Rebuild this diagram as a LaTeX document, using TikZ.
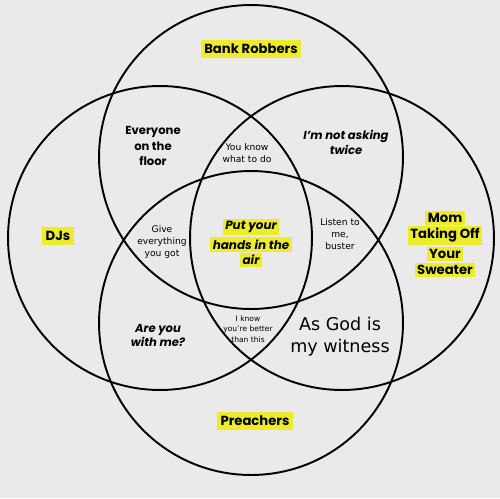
\documentclass[tikz,border=0pt]{standalone}
\usepackage{fontspec}
\setmainfont{Poppins}
\newfontfamily\plainsans{DejaVu Sans}
\usepackage{xcolor}
\definecolor{vennbg}{RGB}{234,234,234}
\definecolor{vennyellow}{RGB}{236,236,44}
\usetikzlibrary{positioning}
\setlength{\fboxsep}{1.4pt}
\newcommand{\hl}[1]{\colorbox{vennyellow}{#1}}

\begin{document}
\begin{tikzpicture}[x=0.02cm, y=-0.02cm,
  ring/.style={draw=black, line width=1.1pt},
  tag/.style={fill=vennyellow, inner xsep=2pt, inner ysep=2.4pt, font=\bfseries\fontsize{7.5}{9}\selectfont},
  phrase/.style={align=center, inner sep=0pt, font=\bfseries\fontsize{6.6}{9}\selectfont},
  aside/.style={align=center, inner sep=0pt, font=\plainsans\fontsize{5.2}{6.8}\selectfont}]
  \fill[vennbg] (0,0) rectangle (500,498);
  \useasboundingbox (0,0) rectangle (500,498);
  % the four circles
  \foreach \cx/\cy in {251/157, 160/238, 342/238, 251/323}
    \draw[ring] (\cx,\cy) circle[radius=3.04cm];
  % group names
  \node[tag] (robbers) at (251,49) {Bank Robbers};
  \node[tag] (djs) at (58,236) {DJs};
  \node[tag] (preachers) at (255,421) {Preachers};
  \node[phrase, font=\bfseries\fontsize{7.5}{9.3}\selectfont] (mom) at (445,244)
    {\hl{Mom}\\\hl{Taking Off}\\\hl{Your}\\\hl{Sweater}};
  % overlaps
  \node[phrase] (floor) at (153,146) {Everyone\\on the\\floor};
  \node[phrase, font=\bfseries\itshape\fontsize{6.6}{8.5}\selectfont] (twice) at (346,142)
    {I’m not asking\\twice};
  \node[aside] (todo) at (247,153) {You know\\what to do};
  \node[aside] (give) at (162,242) {Give\\everything\\you got};
  \node[phrase, font=\bfseries\itshape\fontsize{6.8}{8.8}\selectfont] (hands) at (251,243)
    {\hl{Put your}\\\hl{hands in the}\\\hl{air}};
  \node[aside] (buster) at (340,234) {Listen to\\me,\\buster};
  \node[phrase, font=\bfseries\itshape\fontsize{6.6}{8}\selectfont] (withme) at (158,335)
    {Are you\\with me?};
  \node[aside, font=\plainsans\fontsize{4.3}{6}\selectfont] (better) at (248,329)
    {I know\\you’re better\\than this};
  \node[aside, font=\plainsans\fontsize{10}{12.5}\selectfont] (witness) at (340,337)
    {As God is\\my witness};
\end{tikzpicture}
\end{document}
